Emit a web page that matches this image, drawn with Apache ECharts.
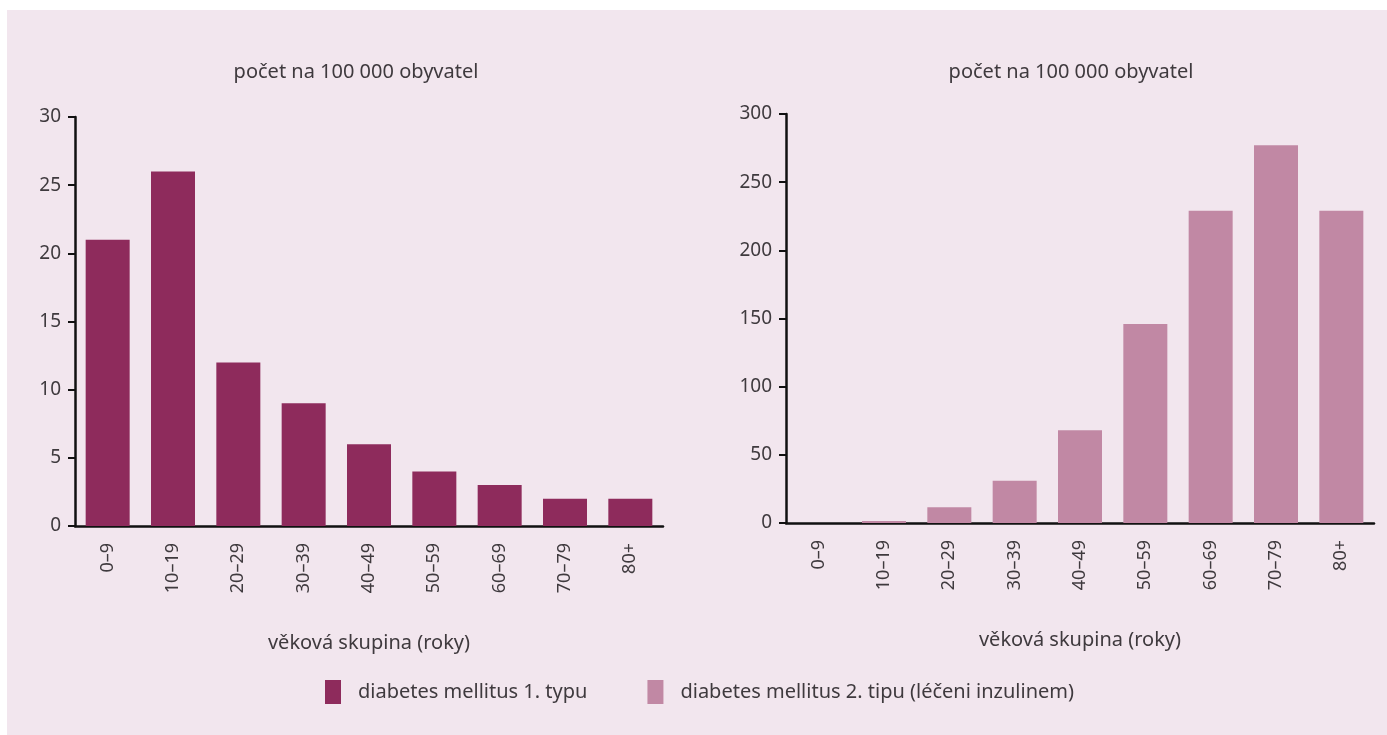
<!DOCTYPE html>
<html><head><meta charset="utf-8">
<script src="https://cdn.jsdelivr.net/npm/echarts@6/dist/echarts.min.js"></script>
<style>
html,body{margin:0;padding:0;background:#fff;}
#bg{position:absolute;left:7px;top:10px;right:0;bottom:0;background:#F2E6EE;}
#c{position:absolute;left:0;top:0;width:1387px;height:735px;}
</style></head>
<body><div id="bg"></div><div id="c"></div>
<script>
const categories = ['0–9','10–19','20–29','30–39','40–49','50–59','60–69','70–79','80+'];
const type1Values = [21, 26, 12, 9, 6, 4, 3, 2, 2];
const type2Values = [0, 1.5, 11.5, 31, 68, 146, 229, 277, 229];
const leftTicks = [0, 30, 5];
const rightTicks = [0, 300, 50];
const seriesNames = ['diabetes mellitus 1. typu', 'diabetes mellitus 2. tipu (léčeni inzulinem)'];
const yTitle = 'počet na 100 000 obyvatel';
const xTitle = 'věková skupina (roky)';

const FONT = '"Noto Sans", sans-serif';
const TXT = '#3f3a3e';
const c1 = '#8E2B5C', c2 = '#C188A4';

function xAx(gi){
  return {gridIndex: gi, type:'category', data: categories,
    axisLine:{lineStyle:{color:'#111', width:2.5}},
    axisTick:{show:false},
    axisLabel:{rotate:90, color:TXT, fontSize:18, fontFamily:FONT, margin:17},
    name: xTitle, nameLocation:'middle', nameGap:107,
    nameTextStyle:{color:TXT, fontSize:20, fontFamily:FONT}
  };
}
function yAx(gi, t){
  return {gridIndex: gi, type:'value', min:t[0], max:t[1], interval:t[2],
    axisLine:{show:true, lineStyle:{color:'#111', width:2.5}},
    axisTick:{show:true, length:7, lineStyle:{color:'#111', width:2}},
    splitLine:{show:false},
    axisLabel:{color:TXT, fontSize:19, fontFamily:FONT, margin:14}
  };
}
const chart = echarts.init(document.getElementById('c'));
chart.setOption({
  animation:false,
  backgroundColor:'transparent',
  title:[
    {text:yTitle, left:351, top:57, textAlign:'center', textStyle:{color:TXT, fontSize:20, fontWeight:'normal', fontFamily:FONT}},
    {text:yTitle, left:1066, top:57, textAlign:'center', textStyle:{color:TXT, fontSize:20, fontWeight:'normal', fontFamily:FONT}}
  ],
  grid:[
    {left:75, width:588, top:117, bottom:209},
    {left:786, width:588, top:114, bottom:212}
  ],
  xAxis:[xAx(0), xAx(1)],
  yAxis:[yAx(0, leftTicks), yAx(1, rightTicks)],
  legend:{
    left:325, top:680, padding:0, itemWidth:16, itemHeight:24, itemGap:60,
    icon:'rect',
    textStyle:{color:TXT, fontSize:20, fontFamily:FONT, padding:[0,0,0,12]},
    data: seriesNames
  },
  series:[
    {name:seriesNames[0], type:'bar', xAxisIndex:0, yAxisIndex:0, data:type1Values,
     itemStyle:{color:c1}, barWidth:44},
    {name:seriesNames[1], type:'bar', xAxisIndex:1, yAxisIndex:1, data:type2Values,
     itemStyle:{color:c2}, barWidth:44}
  ]
});
</script></body></html>
